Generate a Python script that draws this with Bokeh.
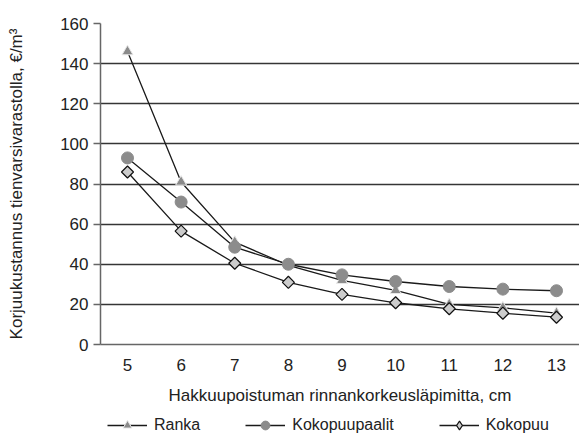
import numpy as np
from bokeh.plotting import figure
from bokeh.layouts import column
from bokeh.models import Range1d, Legend, LegendItem, FixedTicker
from bokeh.embed import file_html
from bokeh.resources import INLINE

# Data
diameter = [5, 6, 7, 8, 9, 10, 11, 12, 13]
ranka = [146, 81, 51, 39.5, 32, 27, 20, 18.3, 15.6]
kokopuupaalit = [93, 71, 48.5, 40, 34.7, 31.4, 28.9, 27.6, 26.8]
kokopuu = [86, 56.5, 40.5, 31, 25, 20.8, 17.8, 15.6, 13.6]
x_ticks = [5, 6, 7, 8, 9, 10, 11, 12, 13]
y_ticks = [0, 20, 40, 60, 80, 100, 120, 140, 160]
series_names = ["Ranka", "Kokopuupaalit", "Kokopuu"]

FONT = "Liberation Sans"
LINE = "#1a1a1a"

p = figure(width=579, height=414, output_backend="svg", toolbar_location=None,
           x_range=Range1d(4.4965, 13.429), y_range=Range1d(0, 160),
           min_border_left=100, min_border_right=0, min_border_top=23,
           min_border_bottom=70)
p.outline_line_color = None
p.background_fill_color = "white"
p.border_fill_color = "white"

# grid
p.xgrid.grid_line_color = None
p.ygrid.ticker = FixedTicker(ticks=y_ticks)
p.ygrid.grid_line_color = "#353535"
p.ygrid.grid_line_width = 1.5

# x axis
xa = p.xaxis[0]
xa.ticker = FixedTicker(ticks=x_ticks)
xa.major_tick_out = 0
xa.major_tick_in = 0
xa.minor_tick_out = 0
xa.minor_tick_in = 0
xa.axis_line_color = "#666666"
xa.axis_line_width = 1.5
xa.major_label_standoff = 14
xa.major_label_text_font = FONT
xa.major_label_text_font_size = "17px"
xa.major_label_text_color = "#222222"
xa.axis_label = "Hakkuupoistuman rinnankorkeusläpimitta, cm"
xa.axis_label_text_font = FONT
xa.axis_label_text_font_size = "17px"
xa.axis_label_text_font_style = "normal"
xa.axis_label_text_color = "#222222"
xa.axis_label_standoff = 12

# y axis
ya = p.yaxis[0]
ya.ticker = FixedTicker(ticks=y_ticks)
ya.major_tick_out = 7
ya.major_tick_in = 0
ya.minor_tick_out = 0
ya.minor_tick_in = 0
ya.axis_line_color = "#666666"
ya.axis_line_width = 1.5
ya.major_tick_line_color = "#666666"
ya.major_tick_line_width = 1.5
ya.major_label_standoff = 5
ya.major_label_text_font = FONT
ya.major_label_text_font_size = "17px"
ya.major_label_text_color = "#222222"
ya.axis_label = "Korjuukustannus tienvarsivarastolla, €/m³"
ya.axis_label_text_font = FONT
ya.axis_label_text_font_size = "17px"
ya.axis_label_text_font_style = "normal"
ya.axis_label_text_color = "#222222"
ya.axis_label_standoff = 31


def draw(fig, legend_copy=False):
    l1 = fig.line(diameter, ranka, line_color=LINE, line_width=1.3)
    s1 = fig.scatter(diameter, ranka, marker="triangle", size=11,
                     fill_color="#8a8a8a", line_color="#e8e8e8", line_width=1)
    l2 = fig.line(diameter, kokopuupaalit, line_color=LINE, line_width=1.3)
    s2 = fig.scatter(diameter, kokopuupaalit, marker="circle", size=12,
                     fill_color="#8c8c8c", line_color="#8c8c8c", line_width=1)
    l3 = fig.line(diameter, kokopuu, line_color=LINE, line_width=1.3)
    if legend_copy:
        s3 = fig.scatter(diameter, kokopuu, marker="diamond", size=12,
                         fill_color="#cccccc", line_color="#111111", line_width=1.2)
    else:
        s3 = fig.scatter(diameter, kokopuu, marker="square", size=8.5,
                         angle=np.pi / 4, fill_color="#cccccc",
                         line_color="#111111", line_width=1.2)
    return [[l1, s1], [l2, s2], [l3, s3]]


draw(p)

# legend strip (its own copies of the series lie outside its view)
lg = figure(width=579, height=22, output_backend="svg", toolbar_location=None,
            x_range=Range1d(1000, 1579), y_range=Range1d(1000, 1022),
            x_axis_type=None, y_axis_type=None,
            min_border_left=0, min_border_right=0, min_border_top=0,
            min_border_bottom=0)
lg.outline_line_color = None
lg.background_fill_color = "white"
lg.border_fill_color = "white"
lg.xgrid.grid_line_color = None
lg.ygrid.grid_line_color = None
rends = draw(lg, legend_copy=True)

legend = Legend(items=[LegendItem(label=n, renderers=r)
                       for n, r in zip(series_names, rends)],
                orientation="horizontal", location=(7, 0))
legend.border_line_color = None
legend.background_fill_alpha = 0
legend.glyph_width = 40
legend.glyph_height = 22
legend.label_height = 22
legend.label_standoff = 7
legend.spacing = 45
legend.padding = 0
legend.margin = 0
legend.label_text_font = FONT
legend.label_text_font_size = "16px"
legend.label_text_color = "#222222"
lg.add_layout(legend, "center")

layout = column(p, lg, spacing=0)
open("out.html", "w").write(file_html(layout, INLINE))
